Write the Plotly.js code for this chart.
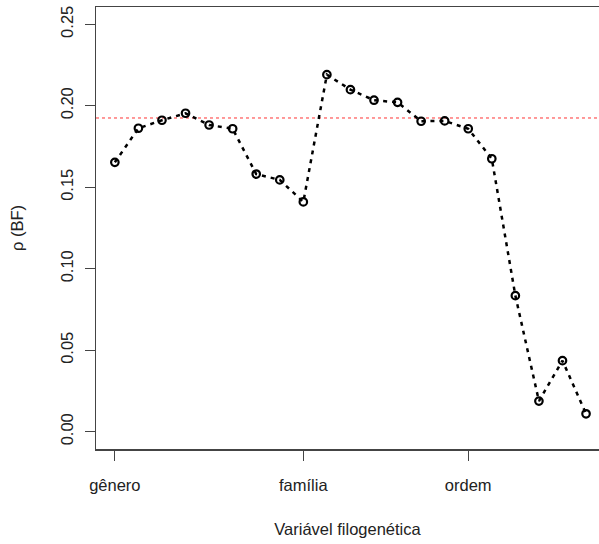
<!DOCTYPE html>
<html>
<head>
<meta charset="utf-8">
<script src="https://cdn.plot.ly/plotly-3.0.1.min.js"></script>
<style>html,body{margin:0;padding:0;background:#fff;}#chart{width:599px;height:544px;}</style>
</head>
<body>
<div id="chart"></div>
<script>
// Positions 1..21 along the phylogenetic variable
const positions = [1,2,3,4,5,6,7,8,9,10,11,12,13,14,15,16,17,18,19,20,21];
// rho(BF) values
const rhoValues = [0.1653,0.1862,0.1911,0.1954,0.1882,0.1859,0.1581,0.1545,0.1410,0.2191,
                   0.2099,0.2034,0.2021,0.1905,0.1907,0.1859,0.1675,0.0835,0.0188,0.0436,0.0110];
const tickPositions = [1, 9, 16];
const tickLabels = ["gênero", "família", "ordem"];
const referenceLevel = 0.1925;
const yTicks = [0, 0.05, 0.10, 0.15, 0.20, 0.25];

const font = "Liberation Sans, Arial, sans-serif";
const fs = 16.5;

const traces = [{
  x: positions,
  y: rhoValues,
  type: "scatter",
  mode: "lines+markers",
  line: {color: "#000", width: 2.5, dash: "4px,5px"},
  marker: {symbol: "circle-open", size: 7.5, color: "#000", line: {width: 2.2, color: "#000"}},
  hoverinfo: "skip",
  showlegend: false
}];

const layout = {
  width: 599, height: 544,
  margin: {l: 96, r: 0, t: 7, b: 95},
  paper_bgcolor: "#fff", plot_bgcolor: "#fff",
  font: {family: font, size: fs, color: "#222"},
  showlegend: false,
  xaxis: {
    range: [0.2, 21.55],
    tickmode: "array", tickvals: tickPositions, ticktext: tickLabels,
    ticks: "outside", ticklen: 10, tickwidth: 1, tickcolor: "#444",
    ticklabelstandoff: 11,
    showgrid: false, zeroline: false,
    showline: true, linecolor: "#444", linewidth: 1.5, mirror: true,
    title: {text: "Variável filogenética", font: {family: font, size: fs, color: "#222"}, standoff: 30},
    tickfont: {family: font, size: fs, color: "#222"}
  },
  yaxis: {
    range: [-0.0106, 0.2606],
    tickmode: "array", tickvals: yTicks,
    tickformat: ".2f",
    tickangle: -90,
    ticks: "outside", ticklen: 10, tickwidth: 1, tickcolor: "#444",
    ticklabelstandoff: 5,
    showgrid: false, zeroline: false,
    showline: true, linecolor: "#444", linewidth: 1.5, mirror: false,
    title: {text: "ρ (BF)", font: {family: font, size: fs, color: "#222"}, standoff: 30},
    tickfont: {family: font, size: fs, color: "#222"}
  },
  shapes: [{
    type: "line", xref: "paper", x0: 0, x1: 1, yref: "y", y0: referenceLevel, y1: referenceLevel,
    line: {color: "rgba(255,0,0,0.8)", width: 1, dash: "dot"}, layer: "below"
  }]
};

Plotly.newPlot("chart", traces, layout, {staticPlot: true, displayModeBar: false});
</script>
</body>
</html>
